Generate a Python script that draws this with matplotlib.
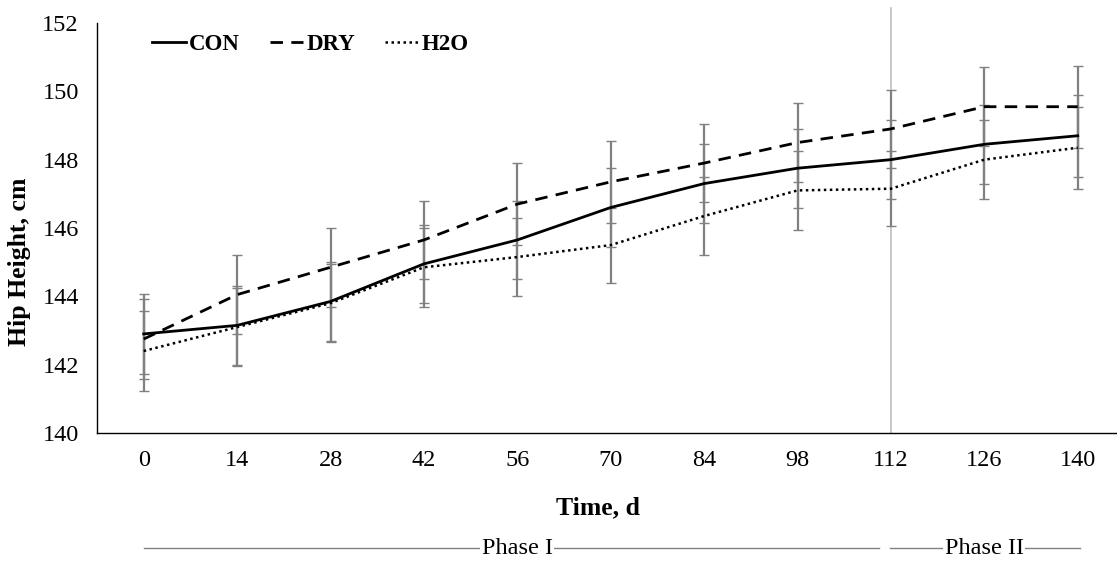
import matplotlib
matplotlib.use("Agg")
import matplotlib.pyplot as plt
import numpy as np

days = ["0", "14", "28", "42", "56", "70", "84", "98", "112", "126", "140"]
con = [142.90, 143.15, 143.85, 144.95, 145.65, 146.60, 147.30, 147.75, 148.00, 148.45, 148.70]
dry = [142.75, 144.05, 144.85, 145.65, 146.70, 147.35, 147.90, 148.50, 148.90, 149.55, 149.55]
h2o = [142.40, 143.10, 143.80, 144.85, 145.15, 145.50, 146.35, 147.10, 147.15, 148.00, 148.35]
con_se = [1.16, 1.15, 1.15, 1.15, 1.15, 1.15, 1.15, 1.15, 1.15, 1.15, 1.20]
dry_se = [1.16, 1.15, 1.15, 1.15, 1.20, 1.20, 1.15, 1.15, 1.15, 1.15, 1.20]
h2o_se = [1.16, 1.15, 1.15, 1.15, 1.15, 1.10, 1.15, 1.15, 1.10, 1.15, 1.20]
yticks = [140, 142, 144, 146, 148, 150, 152]
phases = ["Phase I", "Phase II"]

plt.rcParams['font.family'] = ['Liberation Serif', 'DejaVu Serif']

W, H = 1117, 563
fig = plt.figure(figsize=(W / 100, H / 100), dpi=100)
ax_l, ax_b, ax_t = 97, 433, 23
step = 93.4
ax = fig.add_axes([ax_l / W, 1 - ax_b / H, 11 * step / W, (ax_b - ax_t) / H])

x = np.arange(len(days))
ecol = "#808080"
ekw = dict(fmt="none", ecolor=ecol, elinewidth=1.6, capsize=3.5, capthick=1.0, zorder=2)
ax.errorbar(x, con, yerr=con_se, **ekw)
ax.errorbar(x, dry, yerr=dry_se, **ekw)
ax.errorbar(x, h2o, yerr=h2o_se, **ekw)

ax.plot(x, con, color="black", lw=2.0, ls="-", label="CON", zorder=3)
ax.plot(x, dry, color="black", lw=2.0, ls=(0, (4.5, 3)), label="DRY", zorder=3)
ax.plot(x, h2o, color="black", lw=1.8, ls=(0, (1, 1.4)), label="H2O", zorder=3)

ax.set_xlim(-0.5, len(days) - 0.5)
ax.set_ylim(140, 152)
ax.set_xticks(x)
ax.set_xticklabels(days)
ax.set_yticks(yticks)
ax.tick_params(axis="both", length=0, labelsize=17.5)
ax.tick_params(axis="y", pad=13)
ax.tick_params(axis="x", pad=12)
for s in ["top", "right"]:
    ax.spines[s].set_visible(False)
for s in ["left", "bottom"]:
    ax.spines[s].set_color("black")
    ax.spines[s].set_linewidth(1.0)

# vertical phase separator at day 112
vx = days.index("112")
ax.plot([vx, vx], [140, 152.45], color="#bfbfbf", lw=1.2, clip_on=False, zorder=1)

fig.text(20 / W, 1 - 262 / H, "Hip Height, cm", fontsize=18.5, fontweight="bold",
         rotation=90, ha="center", va="center")
fig.text(598 / W, 1 - 508 / H, "Time, d", fontsize=18.5,
         fontweight="bold", ha="center", va="center")

leg = ax.legend(loc="upper left", bbox_to_anchor=(0.045, 0.995), ncol=3, frameon=False,
                prop={"weight": "bold", "size": 16.5}, handlelength=1.45, handletextpad=0.15,
                columnspacing=1.3, borderaxespad=0)

# phase annotation lines
trans = matplotlib.transforms.blended_transform_factory(ax.transData, fig.transFigure)
py = 1 - 548 / H
ax.plot([0, 7.87], [py, py], color="#808080", lw=1.0, transform=trans, clip_on=False)
ax.plot([7.99, 10.02], [py, py], color="#808080", lw=1.0, transform=trans, clip_on=False)
ax.text(4, py, phases[0], transform=trans, ha="center", va="center", fontsize=17.5,
        bbox=dict(facecolor="white", edgecolor="none", pad=1.0))
ax.text(9, py, phases[1], transform=trans, ha="center", va="center", fontsize=17.5,
        bbox=dict(facecolor="white", edgecolor="none", pad=1.0))

fig.savefig("out.png", dpi=100)
